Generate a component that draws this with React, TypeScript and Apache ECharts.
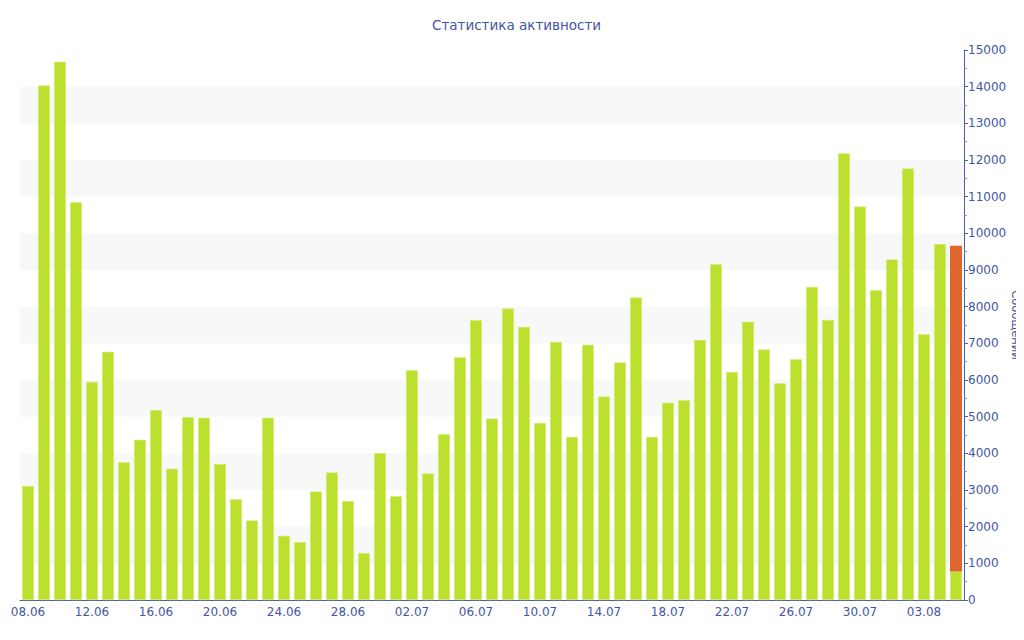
import React, { useEffect, useRef } from "react";
import * as echarts from "echarts";

const categories: string[] = [
  "08.06","09.06","10.06","11.06","12.06","13.06","14.06","15.06","16.06","17.06",
  "18.06","19.06","20.06","21.06","22.06","23.06","24.06","25.06","26.06","27.06",
  "28.06","29.06","30.06","01.07","02.07","03.07","04.07","05.07","06.07","07.07",
  "08.07","09.07","10.07","11.07","12.07","13.07","14.07","15.07","16.07","17.07",
  "18.07","19.07","20.07","21.07","22.07","23.07","24.07","25.07","26.07","27.07",
  "28.07","29.07","30.07","31.07","01.08","02.08","03.08","04.08","05.08",
];

const messages: number[] = [
  3110, 14030, 14680, 10850, 5950, 6770, 3760, 4370, 5180, 3580,
  4990, 4970, 3710, 2750, 2170, 4970, 1750, 1580, 2960, 3480,
  2700, 1280, 4010, 2830, 6270, 3450, 4520, 6620, 7630, 4950,
  7950, 7450, 4830, 7040, 4450, 6960, 5550, 6480, 8250, 4450,
  5380, 5450, 7090, 9160, 6220, 7590, 6830, 5910, 6570, 8540,
  7640, 12180, 10730, 8450, 9290, 11770, 7250, 9710, 780,
];

const forecast: (number | null)[] = categories.map((_, i) =>
  i === categories.length - 1 ? 8880 : null
);

const yTicks = { min: 0, max: 15000, interval: 1000 };

const BLUE = "#4157a3";
const FONT = "DejaVu Sans";

export default function App() {
  const ref = useRef<HTMLDivElement>(null);
  useEffect(() => {
    if (!ref.current) return;
    const chart = echarts.init(ref.current, undefined, { renderer: "svg" });
    chart.setOption({
      animation: false,
      textStyle: { fontFamily: FONT },
      title: {
        text: "Статистика активности",
        left: 419,
        top: 5,
        textStyle: { color: BLUE, fontSize: 13.5, fontWeight: "normal", fontFamily: FONT },
      },
      grid: { left: 12, right: 60, top: 42, bottom: 32, outerBoundsMode: "none", containLabel: false },
      xAxis: {
        type: "category",
        data: categories,
        axisLine: { lineStyle: { color: "#4a5fa6", width: 1 } },
        axisTick: { alignWithLabel: true, interval: 3, length: 4, lineStyle: { color: "#4a5fa6" } },
        axisLabel: { interval: 3, color: BLUE, fontSize: 12, fontFamily: FONT, margin: 6 },
        splitLine: { show: false },
      },
      yAxis: {
        type: "value",
        position: "right",
        min: yTicks.min,
        max: yTicks.max,
        interval: yTicks.interval,
        name: "Сообщений",
        nameLocation: "middle",
        nameGap: 46,
        nameRotate: -90,
        nameMoveOverlap: false,
        nameTextStyle: { color: BLUE, fontSize: 11.5, fontFamily: FONT },
        axisLine: { show: true, lineStyle: { color: "#4a5fa6", width: 1 } },
        axisTick: { show: true, length: 4, lineStyle: { color: "#4a5fa6" } },
        minorTick: { show: true, splitNumber: 2, length: 3, lineStyle: { color: "#8090c0" } },
        axisLabel: {
          color: BLUE,
          fontSize: 12,
          fontFamily: FONT,
          margin: 4,
          formatter: (v: number) => String(v),
        },
        splitLine: { show: false },
        splitArea: { show: true, areaStyle: { color: ["rgba(255,255,255,0)", "#f8f8f8"] } },
      },
      series: [
        {
          name: "Сообщений",
          type: "bar",
          stack: "total",
          data: messages,
          barWidth: 12,
          itemStyle: { color: "#bde02f", borderColor: "#d6ee8a", borderWidth: 0.6 },
        },
        {
          name: "Прогноз",
          type: "bar",
          stack: "total",
          data: forecast,
          barWidth: 12,
          itemStyle: { color: "#e06630" },
        },
      ],
    });
    return () => chart.dispose();
  }, []);
  return <div ref={ref} style={{ width: 1016, height: 624 }} />;
}
